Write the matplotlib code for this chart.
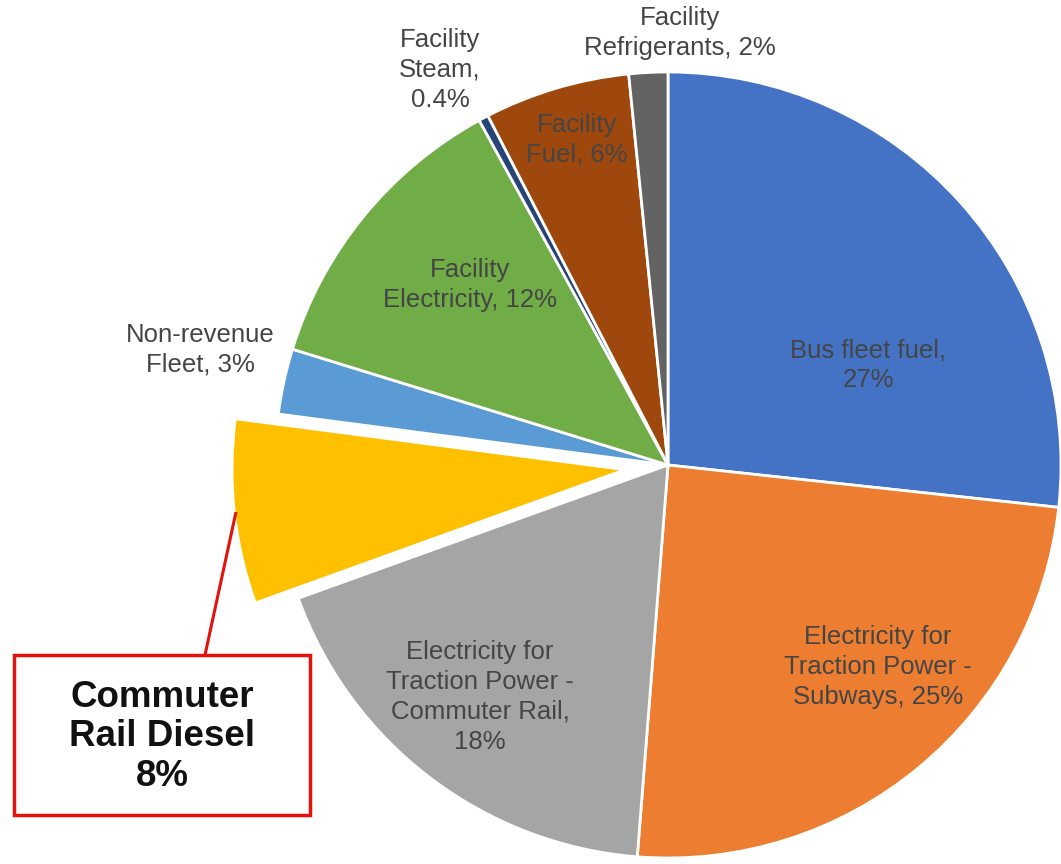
import matplotlib.pyplot as plt
import numpy as np

plt.rcParams["font.family"] = ["Liberation Sans", "DejaVu Sans"]

# shares (percent), clockwise from 12 o'clock
names = ["Bus fleet fuel", "Electricity Subways", "Electricity Commuter Rail",
         "Commuter Rail Diesel", "Non-revenue Fleet", "Facility Electricity",
         "Facility Steam", "Facility Fuel", "Facility Refrigerants"]
shares = [26.8, 24.6, 18.3, 7.6, 2.7, 12.3, 0.4, 6.0, 1.6]
labels = ["Bus fleet fuel,\n27%",
          "Electricity for\nTraction Power -\nSubways, 25%",
          "Electricity for\nTraction Power -\nCommuter Rail,\n18%",
          None,
          "Non-revenue\nFleet, 3%",
          "Facility\nElectricity, 12%",
          "Facility\nSteam,\n0.4%",
          "Facility\nFuel, 6%",
          "Facility\nRefrigerants, 2%"]
colors = ["#4472C4", "#ED7D31", "#A5A5A5", "#FFC000", "#5B9BD5",
          "#70AD47", "#264478", "#9E480E", "#636363"]
explode = [0, 0, 0, 0.11, 0, 0, 0, 0, 0]

W, H = 1061, 864
cx, cy, R = 668, 465, 393

def px(x, y):
    # pixel position -> data coords (pie radius = 1)
    return (x - cx) / R, (cy - y) / R

fig = plt.figure(figsize=(W / 100, H / 100), dpi=100)
ax = fig.add_axes([0, 0, 1, 1])
ax.pie(shares, colors=colors, explode=explode, startangle=90, counterclock=False,
       radius=1, wedgeprops=dict(edgecolor="white", linewidth=2))
ax.set_xlim(-cx / R, (W - cx) / R)
ax.set_ylim(-(H - cy) / R, cy / R)
ax.set_aspect("equal")
ax.axis("off")

label_pos = [(868, 365), (878, 667), (480, 697), None, (200, 350),
             (470, 285), (440, 70), (577, 140), (680, 33)]
for lab, pos in zip(labels, label_pos):
    if lab is None:
        continue
    x, y = px(*pos)
    ax.text(x, y, lab, ha="center", va="center", fontsize=18.5,
            color="#454545", linespacing=1.3)

# callout for commuter rail diesel
x0, y0 = px(236, 512)
x1, y1 = px(205, 655)
ax.plot([x0, x1], [y0, y1], color="#E3120B", lw=2.2, solid_capstyle="butt")
bx0, by0 = px(14, 815)
bx1, by1 = px(310, 655)
ax.add_patch(plt.Rectangle((bx0, by0), bx1 - bx0, by1 - by0, fill=False,
                           edgecolor="#E3120B", lw=2.5))
tx, ty = px(162, 737)
ax.text(tx, ty, "Commuter\nRail Diesel\n8%", ha="center", va="center",
        fontsize=26.5, fontweight="bold", color="#111111", linespacing=1.15)

fig.savefig("out.png", dpi=100)
